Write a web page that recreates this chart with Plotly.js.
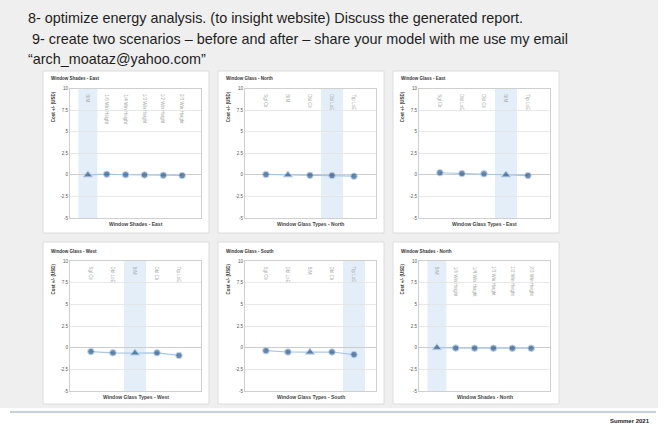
<!DOCTYPE html>
<html><head><meta charset="utf-8">
<script src="https://cdn.plot.ly/plotly-3.0.1.min.js"></script>
<style>html,body{margin:0;padding:0;background:#fff}#chart{width:666px;height:432px}</style>
</head><body><div id="chart"></div>
<script>
// ---- data ----
const headerLines = [
  "8- optimize energy analysis. (to insight website) Discuss the generated report.",
  " 9- create two scenarios \u2013 before and after \u2013 share your model with me use my email",
  "\u201Carch_moataz@yahoo.com\u201D"
];
const footerText = "Summer 2021";
const yTickVals = [10, 7.5, 5, 2.5, 0, -2.5, -5];
const yTickText = ["10", "7.5", "5", "2.5", "0", "-2.5", "-5"];
const yTitle = "Cost +/- (USD)";

const shadesEastCats = ["BIM", "1/6 Win Height", "1/4 Win Height", "1/3 Win Height", "1/2 Win Height", "2/3 Win Height"];
const shadesEastVals = [0, 0.08, 0.02, 0.0, -0.04, -0.07];
const shadesEastHighlight = "BIM";

const glassNorthCats = ["Sgl Clr", "BIM", "Dbl Clr", "Dbl LoE", "Trp LoE"];
const glassNorthVals = [0.05, 0, -0.05, -0.07, -0.15];
const glassNorthHighlight = "Dbl LoE";

const glassEastCats = ["Sgl Clr", "Dbl LoE", "Dbl Clr", "BIM", "Trp LoE"];
const glassEastVals = [0.25, 0.15, 0.12, 0, -0.08];
const glassEastHighlight = "BIM";

const glassWestCats = ["Sgl Clr", "Dbl LoE", "BIM", "Dbl Clr", "Trp LoE"];
const glassWestVals = [-0.45, -0.6, -0.62, -0.6, -0.9];
const glassWestHighlight = "BIM";

const glassSouthCats = ["Sgl Clr", "Dbl LoE", "BIM", "Dbl Clr", "Trp LoE"];
const glassSouthVals = [-0.35, -0.5, -0.52, -0.5, -0.8];
const glassSouthHighlight = "Trp LoE";

const shadesNorthCats = ["BIM", "1/6 Win Height", "1/4 Win Height", "1/3 Win Height", "1/2 Win Height", "2/3 Win Height"];
const shadesNorthVals = [0, -0.05, -0.06, -0.06, -0.07, -0.07];
const shadesNorthHighlight = "BIM";

const panels = [
  {title: "Window Shades - East",  xTitle: "Window Shades - East",       cats: shadesEastCats,  vals: shadesEastVals,  hl: shadesEastHighlight},
  {title: "Window Glass - North",  xTitle: "Window Glass Types - North", cats: glassNorthCats,  vals: glassNorthVals,  hl: glassNorthHighlight},
  {title: "Window Glass - East",   xTitle: "Window Glass Types - East",  cats: glassEastCats,   vals: glassEastVals,   hl: glassEastHighlight},
  {title: "Window Glass - West",   xTitle: "Window Glass Types - West",  cats: glassWestCats,   vals: glassWestVals,   hl: glassWestHighlight},
  {title: "Window Glass - South",  xTitle: "Window Glass Types - South", cats: glassSouthCats,  vals: glassSouthVals,  hl: glassSouthHighlight},
  {title: "Window Shades - North", xTitle: "Window Shades - North",      cats: shadesNorthCats, vals: shadesNorthVals, hl: shadesNorthHighlight}
];

// ---- layout geometry (pixels) ----
const W = 666, H = 432;
const px = x => x / W, py = y => 1 - y / H;
const cardX = [[43, 209], [218, 384], [393, 559]];
const cardY = [[71, 233], [242, 404]];
const plotX = [[70, 201], [245, 376], [419, 550]];
const plotY = [[88.7, 218], [261, 391]];
const titleY = [78, 251];
const xTitleY = [224, 397];

const FONT = "Liberation Sans, Arial, sans-serif";
const traces = [];
const shapes = [];
const annotations = [];
const layout = {
  width: W, height: H,
  margin: {l: 0, r: 0, t: 0, b: 0},
  paper_bgcolor: "#ffffff",
  plot_bgcolor: "rgba(0,0,0,0)",
  showlegend: false,
  font: {family: FONT}
};

// slide background
shapes.push({type: "rect", xref: "paper", yref: "paper", x0: 0, x1: px(658), y0: py(408), y1: 1,
  fillcolor: "#efefef", line: {width: 0}, layer: "below"});
shapes.push({type: "line", xref: "paper", yref: "paper", x0: px(10), x1: px(656), y0: py(412), y1: py(412),
  line: {color: "#8ea5bb", width: 1.2}, layer: "below"});

headerLines.forEach((t, i) => {
  annotations.push({xref: "paper", yref: "paper", x: px(26), y: py([18, 39, 59][i]), xanchor: "left", yanchor: "middle",
    text: t, showarrow: false, font: {family: FONT, size: 14.4, color: "#1e1e1e"}});
});
annotations.push({xref: "paper", yref: "paper", x: px(652), y: py(421), xanchor: "right", yanchor: "middle",
  text: "<b>" + footerText + "</b>", showarrow: false, font: {family: FONT, size: 6, color: "#222"}});

panels.forEach((p, i) => {
  const r = Math.floor(i / 3), c = i % 3;
  const k = i === 0 ? "" : String(i + 1);
  const xa = "x" + k, ya = "y" + k;
  // card
  shapes.push({type: "rect", xref: "paper", yref: "paper",
    x0: px(cardX[c][0]), x1: px(cardX[c][1]), y0: py(cardY[r][1]), y1: py(cardY[r][0]),
    fillcolor: "#ffffff", line: {color: "#dcdcdc", width: 1}, layer: "below"});
  // highlight band
  const hi = p.cats.indexOf(p.hl);
  shapes.push({type: "rect", xref: xa, yref: ya + " domain", x0: hi - 0.5, x1: hi + 0.5, y0: 0, y1: 1,
    fillcolor: "#e4eef9", line: {width: 0}, layer: "below"});

  traces.push({
    type: "scatter", mode: "lines+markers", xaxis: xa, yaxis: ya,
    x: p.cats, y: p.vals,
    line: {color: "#a8c7e6", width: 1.2},
    marker: {color: "#2f5a88", size: p.cats.map(cn => cn === "BIM" ? 8 : 6.5),
      symbol: p.cats.map(cn => cn === "BIM" ? "triangle-up" : "circle")},
    hoverinfo: "skip"
  });

  layout["xaxis" + k] = {
    domain: [px(plotX[c][0]), px(plotX[c][1])], anchor: ya,
    type: "category", categoryarray: p.cats, categoryorder: "array",
    range: [-0.95, p.cats.length], showticklabels: false, ticks: "",
    showgrid: false, zeroline: false, showline: true, mirror: true, linecolor: "#cfcfcf", linewidth: 1,
    fixedrange: true
  };
  layout["yaxis" + k] = {
    domain: [py(plotY[r][1]), py(plotY[r][0])], anchor: xa,
    range: [-5, 10], tickvals: yTickVals, ticktext: yTickText, ticks: "",
    tickfont: {size: 4.5, color: "#555"},
    showgrid: true, gridcolor: "#e2e2e2", gridwidth: 0.8,
    zeroline: true, zerolinecolor: "#cccccc", zerolinewidth: 1,
    showline: true, mirror: true, linecolor: "#cfcfcf", linewidth: 1,
    fixedrange: true
  };

  // card title
  annotations.push({xref: "paper", yref: "paper", x: px(cardX[c][0] + 6), y: py(titleY[r]), xanchor: "left", yanchor: "middle",
    text: "<b>" + p.title + "</b>", showarrow: false, font: {family: FONT, size: 4.5, color: "#333"}});
  // x title
  annotations.push({xref: "paper", yref: "paper", x: px((plotX[c][0] + plotX[c][1]) / 2), y: py(xTitleY[r]), xanchor: "center", yanchor: "middle",
    text: "<b>" + p.xTitle + "</b>", showarrow: false, font: {family: FONT, size: 5, color: "#444"}});
  // y title
  annotations.push({xref: "paper", yref: "paper", x: px(plotX[c][0] - 17), y: py(plotY[r][0] + 1), xanchor: "center", yanchor: "top",
    text: "<b>" + yTitle + "</b>", textangle: -90, showarrow: false, font: {family: FONT, size: 4.5, color: "#333"}});
  // category labels (vertical, inside top of plot)
  p.cats.forEach(cn => {
    annotations.push({xref: xa, yref: ya, x: cn, y: 9.6, xanchor: "center", yanchor: "top",
      text: cn, textangle: 90, showarrow: false, font: {family: FONT, size: 4.5, color: "#a8a8a8"}});
  });
});

layout.shapes = shapes;
layout.annotations = annotations;
Plotly.newPlot("chart", traces, layout, {displayModeBar: false, staticPlot: true});
</script>
</body></html>
